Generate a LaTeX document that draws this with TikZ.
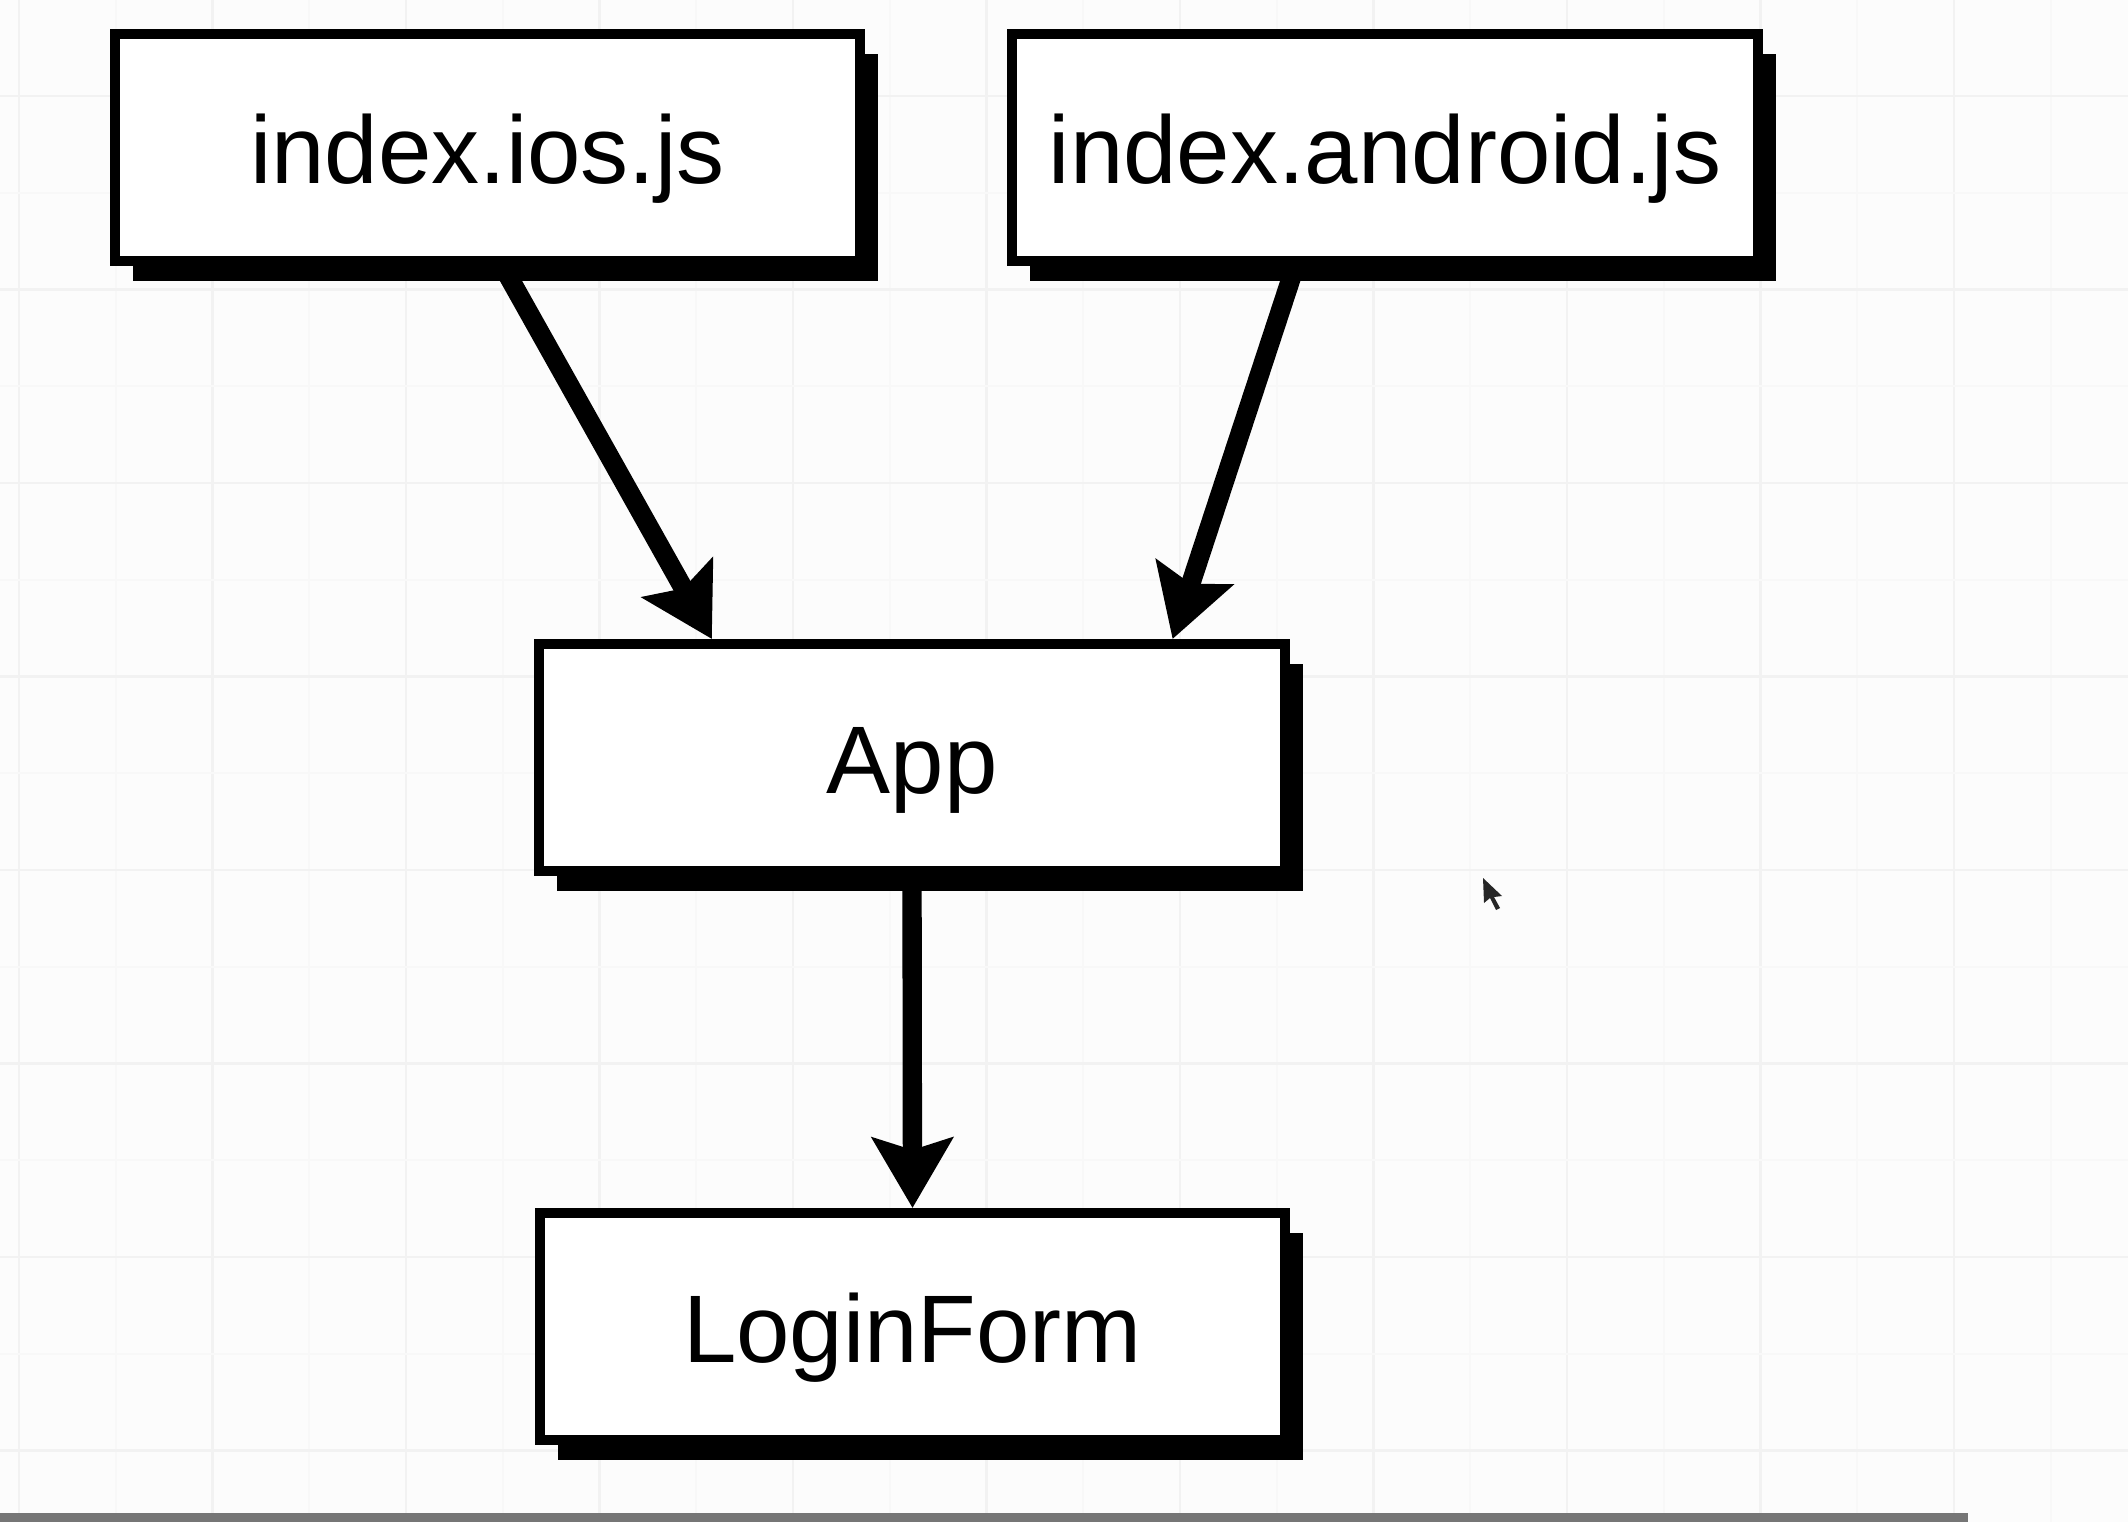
\documentclass[tikz,border=0pt]{standalone}
\usepackage{fontspec}
\setmainfont{Liberation Sans}
\usetikzlibrary{arrows.meta,shadows,calc}
\definecolor{paper}{HTML}{FCFCFC}
\definecolor{gridmaj}{HTML}{F2F2F2}
\definecolor{gridmin}{HTML}{F8F8F8}
\definecolor{barcol}{HTML}{767676}
\tikzset{
  filebox/.style={draw, line width=2.8pt, fill=white, minimum width=7.45cm, minimum height=2.27cm,
    text height=0.91cm, text depth=0.2cm, font=\fontsize{27.3}{30}\selectfont,
    drop shadow={shadow xshift=0.18cm, shadow yshift=-0.2cm, fill=black, opacity=1}},
  link/.style={line width=5.5pt, -{Stealth[length=0.7cm,width=0.8cm,inset=0.12cm]}}
}
\begin{document}
\begin{tikzpicture}[x=0.01cm,y=-0.01cm]
  \useasboundingbox (0,0) rectangle (2128,1522);
  \fill[paper] (0,0) rectangle (2128,1522);
  % grid
  \foreach \g in {0,...,10} {
    \draw[gridmin, line width=0.6pt] ({115.75+193.5*\g},0) -- ++(0,1522);
    \draw[gridmaj, line width=0.8pt] ({19+193.5*\g},0) -- ++(0,1522);
  }
  \foreach \g in {0,...,7} {
    \draw[gridmin, line width=0.6pt] (0,{192.75+193.5*\g}) -- ++(2128,0);
    \draw[gridmaj, line width=0.8pt] (0,{96+193.5*\g}) -- ++(2128,0);
  }
  \fill[barcol] (0,1513) rectangle (1968,1522); %bottom edge
  % boxes
  \node[filebox] (ios) at (487.5,147.5) {index.ios.js};
  \node[filebox] (android) at (1385,147.5) {index.android.js};
  \node[filebox] (app) at (912,757.5) {App};
  \node[filebox] (login) at (912.5,1326.5) {LoginForm};
  % arrows
  \draw[link] ($(ios.south west)!0.52!(ios.south east)$) -- ($(app.north west)!0.235!(app.north east)$);
  \draw[link] ($(android.south west)!0.381!(android.south east)$) -- ($(app.north west)!0.845!(app.north east)$);
  \draw[link] (app.south) -- (login.north);
  \fill[black!85] (1483,878) -- (1484,903) -- (1490,898) -- (1496,910) -- (1500,908) -- (1494,897) -- (1502,896) -- cycle; %pointer
\end{tikzpicture}
\end{document}
